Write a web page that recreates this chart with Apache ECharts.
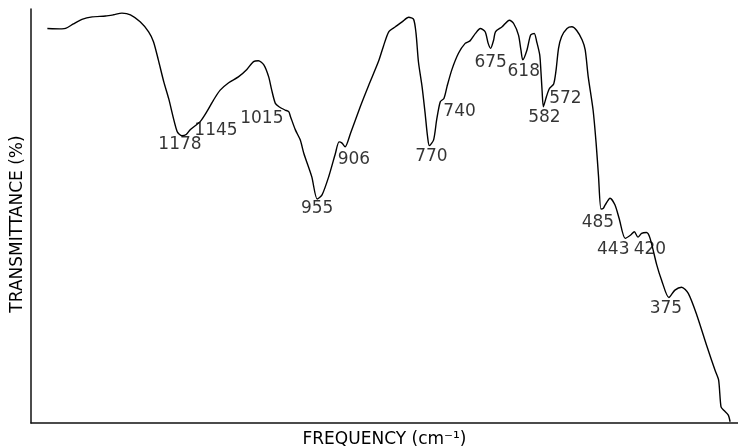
<!DOCTYPE html>
<html>
<head>
<meta charset="utf-8">
<script src="https://cdn.jsdelivr.net/npm/echarts@6/dist/echarts.min.js"></script>
<style>
html,body{margin:0;padding:0;background:#fff;}
#chart{width:738px;height:447px;}
</style>
</head>
<body>
<div id="chart"></div>
<script>
// Frequency (cm-1) of traced spectrum points
const frequency = [1400,1376,1370,1357,1343,1326,1304,1291,1277,1263,1247,1233,1225,1217,1208,1200,1186,1178,1171,1164,1148,1137,1126,1115,1101,1085,1071,1060,1052,1043,1035,1030,1024,1018,1008,1002,999,991,983,977,964,955,947,936,925,919,914,909,900,884,870,854,846,837,826,815,804,796,792,788,782,777,773,770,763,758,752,746,741,733,722,711,703,694,686,678,673,669,664,661,650,638,631,623,619,616,609,603,597,593,588,586,584,582,577,572,565,561,557,552,543,535,527,518,513,508,500,495,491,487,483,480,472,464,457,447,438,432,426,420,412,406,395,387,375,365,354,343,329,312,299,293,289,284,277,274];
// Transmittance (%) at each point
const transmittance = [95.3,95.2,95.3,96.4,97.5,98.1,98.3,98.6,99.0,98.6,96.9,94.5,92.1,87.7,82.4,78.4,70.4,69.4,69.7,70.9,72.8,75.2,78.0,80.4,82.2,83.6,85.4,87.3,87.5,86.5,83.6,80.4,77.2,76.4,75.6,75.2,74.0,70.8,68.4,65.1,59.5,54.1,55.1,59.5,65.1,67.9,67.6,66.7,70.0,76.4,81.6,87.3,90.9,94.5,95.7,96.9,98.0,97.5,94.1,87.2,81.2,74.8,69.2,67.0,68.4,73.2,77.6,78.4,81.2,85.3,89.3,91.7,92.3,94.1,95.3,94.5,91.7,90.5,92.5,94.5,95.7,97.3,96.5,93.7,90.1,87.7,90.1,93.7,94.1,92.1,88.9,84.9,80.0,76.4,78.8,80.8,81.9,85.3,90.5,93.3,95.3,95.7,94.8,92.5,90.1,83.6,75.6,67.6,59.5,51.7,51.9,52.7,54.3,52.7,49.4,44.6,45.4,46.2,44.9,45.8,46.0,44.6,38.2,34.5,30.3,32.1,32.8,31.3,26.1,18.4,12.8,10.4,3.9,3.0,1.9,0.3];
// Annotated bands: label text and the point of the curve they refer to
const peakLabels = ['1178','1145','1015','955','906','770','740','675','618','582','572','485','443','420','375'];
const peakFreq   = [1178,1145,1015,955,906,770,740,669,616,582,572,487,447,426,375];
const peakTrans  = [69.4,73.4,76.1,54.1,67.9,67.0,81.7,90.5,87.7,76.4,80.8,51.9,44.6,44.9,30.3];
// Layout: pixel offset of each label from its point
const labelOffsets = [[-2,9],[14,11],[-19,11],[0,10],[7,18],[2,11],[12,27],[0,14],[1,12],[1,11],[16,10],[-3,14],[-12,11],[12,12],[-3,11]];

const chart = echarts.init(document.getElementById('chart'));
const FONT = 'DejaVu Sans';
chart.setOption({
  animation: false,
  backgroundColor: '#fff',
  grid: {left: 31, right: 0, top: 9, bottom: 24, containLabel: false, outerBoundsMode: 'none'},
  xAxis: {
    type: 'value', min: 261, max: 1427, inverse: true,
    name: 'FREQUENCY (cm⁻¹)', nameLocation: 'middle', nameGap: 8,
    nameTextStyle: {fontFamily: FONT, fontSize: 17, color: '#000', verticalAlign: 'top'},
    axisLine: {show: true, onZero: false, lineStyle: {color: '#111', width: 1.5}},
    axisTick: {show: false}, axisLabel: {show: false}, splitLine: {show: false}
  },
  yAxis: {
    type: 'value', min: 0, max: 100,
    name: 'TRANSMITTANCE (%)', nameLocation: 'middle', nameGap: 5,
    nameTextStyle: {fontFamily: FONT, fontSize: 17, color: '#000', padding: [0, 0, 0, -16]},
    axisLine: {show: true, onZero: false, lineStyle: {color: '#111', width: 1.5}},
    axisTick: {show: false}, axisLabel: {show: false}, splitLine: {show: false}
  },
  series: [
    {
      type: 'line',
      data: frequency.map((f, i) => [f, transmittance[i]]),
      showSymbol: false, symbol: 'none',
      smooth: 0.25,
      lineStyle: {color: '#000', width: 1.4},
      z: 2
    },
    {
      type: 'scatter',
      symbolSize: 0,
      data: peakLabels.map((t, i) => ({
        name: t, value: [peakFreq[i], peakTrans[i]],
        label: {offset: labelOffsets[i]}
      })),
      label: {
        show: true, position: 'inside', formatter: '{b}',
        fontFamily: FONT, fontSize: 17, color: '#000'
      },
      silent: true, z: 3
    }
  ]
});
</script>
</body>
</html>
